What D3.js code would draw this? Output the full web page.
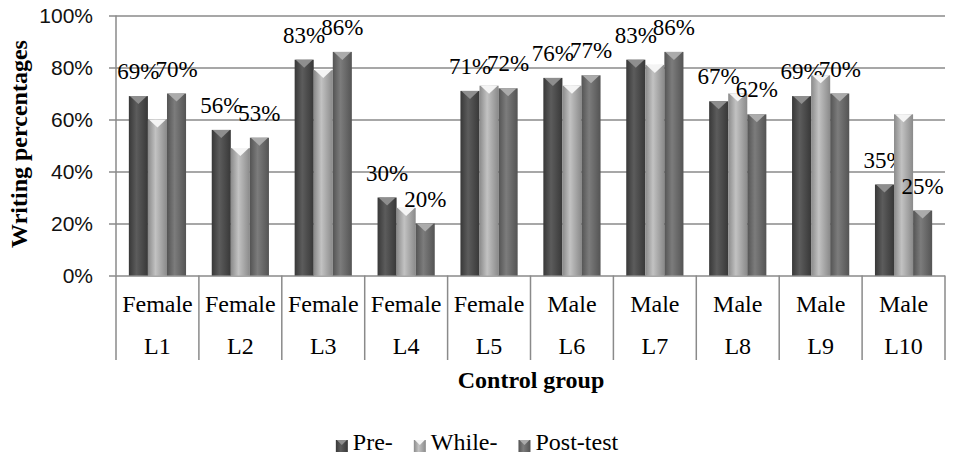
<!DOCTYPE html>
<html lang="en">
<head>
<meta charset="UTF-8"/>
<title>Control group</title>
<script src="https://d3js.org/d3.v7.min.js"></script>
<style>
  body { margin: 0; background: #fff; }
  svg { display: block; }
  .ytick text { font-family: "Liberation Sans", Arial, sans-serif; font-size: 21px; fill: #111; }
</style>
</head>
<body>
<div id="chart"></div>
<script>

// data
var levels = ["L1", "L2", "L3", "L4", "L5", "L6", "L7", "L8", "L9", "L10"];
var genders = ["Female", "Female", "Female", "Female", "Female", "Male", "Male", "Male", "Male", "Male"];
var series = ["Pre-", "While-", "Post-test"];
var pre = [0.69, 0.56, 0.83, 0.30, 0.71, 0.76, 0.83, 0.67, 0.69, 0.35];
var whileT = [0.60, 0.49, 0.79, 0.26, 0.73, 0.73, 0.81, 0.70, 0.77, 0.62];
var post = [0.70, 0.53, 0.86, 0.20, 0.72, 0.77, 0.86, 0.62, 0.70, 0.25];
var yTicks = [0, 0.2, 0.4, 0.6, 0.8, 1];

var values = [pre, whileT, post];
var showLabel = [true, false, true];
var fills = [
  {edge: "#383838", mid: "#5c5c5c", cap: "#8e8e8e"},
  {edge: "#8a8a8a", mid: "#c2c2c2", cap: "#f4f4f4"},
  {edge: "#545454", mid: "#7c7c7c", cap: "#ababab"}
];
var serif = "'Liberation Serif', 'DejaVu Serif', serif";

var W = 960, H = 462;
var plotL = 116, plotR = 945, plotT = 15.5, plotB = 275.5;

var svg = d3.select("#chart").append("svg")
    .attr("width", W)
    .attr("height", H);

// gradients for the bars
var defs = svg.append("defs");
fills.forEach(function(f, i) {
  var g = defs.append("linearGradient").attr("id", "grad" + i)
      .attr("x1", "0%").attr("x2", "100%").attr("y1", "0%").attr("y2", "0%");
  g.append("stop").attr("offset", "0%").attr("stop-color", f.edge);
  g.append("stop").attr("offset", "40%").attr("stop-color", f.mid);
  g.append("stop").attr("offset", "100%").attr("stop-color", f.edge);
});

var x = d3.scaleBand()
    .domain(levels)
    .range([plotL, plotR])
    .paddingInner(0)
    .paddingOuter(0);

var groupW = x.bandwidth() * 0.69;
var xs = d3.scaleBand()
    .domain(series)
    .range([(x.bandwidth() - groupW) / 2, (x.bandwidth() + groupW) / 2]);

var y = d3.scaleLinear()
    .domain([0, 1])
    .range([plotB, plotT]);

// y axis + grid
var yAxis = svg.append("g")
    .attr("class", "ytick")
    .attr("transform", "translate(" + plotL + ",0)")
    .call(d3.axisLeft(y)
      .tickValues(yTicks)
      .tickFormat(d3.format(".0%"))
      .tickSize(-(plotR - plotL))
      .tickPadding(23));
yAxis.select(".domain").remove();
yAxis.selectAll(".tick line")
    .attr("x1", -7)
    .attr("stroke", "#8a8a8a")
    .attr("stroke-width", 1.5);

// left axis line
svg.append("line")
    .attr("x1", plotL).attr("x2", plotL)
    .attr("y1", plotT).attr("y2", plotB)
    .attr("stroke", "#8a8a8a")
    .attr("stroke-width", 1.5);

// category dividers
var bounds = levels.map(function(d) { return x(d); }).concat([plotR]);
svg.selectAll("line.div")
  .data(bounds)
  .enter()
  .append("line")
    .attr("class", "div")
    .attr("x1", function(d) { return d; })
    .attr("x2", function(d) { return d; })
    .attr("y1", plotB)
    .attr("y2", 360)
    .attr("stroke", "#8a8a8a")
    .attr("stroke-width", 1.5);

// category labels
svg.selectAll("text.gender")
  .data(levels)
  .enter()
  .append("text")
    .attr("class", "gender")
    .attr("x", function(d) { return x(d) + x.bandwidth() / 2; })
    .attr("y", 311.5)
    .attr("text-anchor", "middle")
    .attr("font-family", serif)
    .attr("font-size", 24)
    .text(function(d, i) { return genders[i]; });

svg.selectAll("text.level")
  .data(levels)
  .enter()
  .append("text")
    .attr("class", "level")
    .attr("x", function(d) { return x(d) + x.bandwidth() / 2; })
    .attr("y", 354)
    .attr("text-anchor", "middle")
    .attr("font-family", serif)
    .attr("font-size", 24)
    .text(function(d) { return d; });

// bars
series.forEach(function(s, si) {
  var rows = levels.map(function(l, i) { return {level: l, v: values[si][i]}; });
  var g = svg.append("g");
  var bw = xs.bandwidth();

  g.selectAll("rect")
    .data(rows)
    .enter()
    .append("rect")
      .attr("x", function(d) { return x(d.level) + xs(s); })
      .attr("y", function(d) { return y(d.v); })
      .attr("width", bw)
      .attr("height", function(d) { return y(0) - y(d.v); })
      .attr("fill", "url(#grad" + si + ")");

  // top cap
  g.selectAll("path")
    .data(rows)
    .enter()
    .append("path")
      .attr("d", function(d) {
        var x0 = x(d.level) + xs(s), y0 = y(d.v);
        return "M" + (x0 + 1) + "," + y0 + "L" + (x0 + bw - 1) + "," + y0 +
               "L" + (x0 + bw / 2) + "," + (y0 + 8) + "Z";
      })
      .attr("fill", fills[si].cap);

  if (showLabel[si]) {
    g.selectAll("text")
      .data(rows)
      .enter()
      .append("text")
        .attr("x", function(d) { return x(d.level) + xs(s) + bw / 2; })
        .attr("y", function(d) { return y(d.v) - 17; })
        .attr("text-anchor", "middle")
        .attr("font-family", serif)
        .attr("font-size", 23)
        .text(function(d) { return d3.format(".0%")(d.v); });
  }
});

// axis titles
svg.append("text")
    .attr("transform", "translate(27,144) rotate(-90)")
    .attr("text-anchor", "middle")
    .attr("font-family", serif)
    .attr("font-size", 24)
    .attr("font-weight", "bold")
    .text("Writing percentages");

svg.append("text")
    .attr("x", 531)
    .attr("y", 388)
    .attr("text-anchor", "middle")
    .attr("font-family", serif)
    .attr("font-size", 24)
    .attr("font-weight", "bold")
    .text("Control group");

// legend
var legend = svg.append("g");
var lx = 0;
series.forEach(function(s, si) {
  var item = legend.append("g").attr("transform", "translate(" + lx + ",0)");
  item.append("rect")
      .attr("x", 0).attr("y", -10)
      .attr("width", 12).attr("height", 12)
      .attr("fill", "url(#grad" + si + ")");
  item.append("path")
      .attr("d", "M1,-10L11,-10L6,-5Z")
      .attr("fill", fills[si].cap);
  var t = item.append("text")
      .attr("x", 17)
      .attr("y", 0)
      .attr("font-family", serif)
      .attr("font-size", 24)
      .text(s);
  lx += 17 + t.node().getComputedTextLength() + 21;
});
var lw = lx - 21;
legend.attr("transform", "translate(" + (477 - lw / 2) + ",450)");

</script>
</body>
</html>
